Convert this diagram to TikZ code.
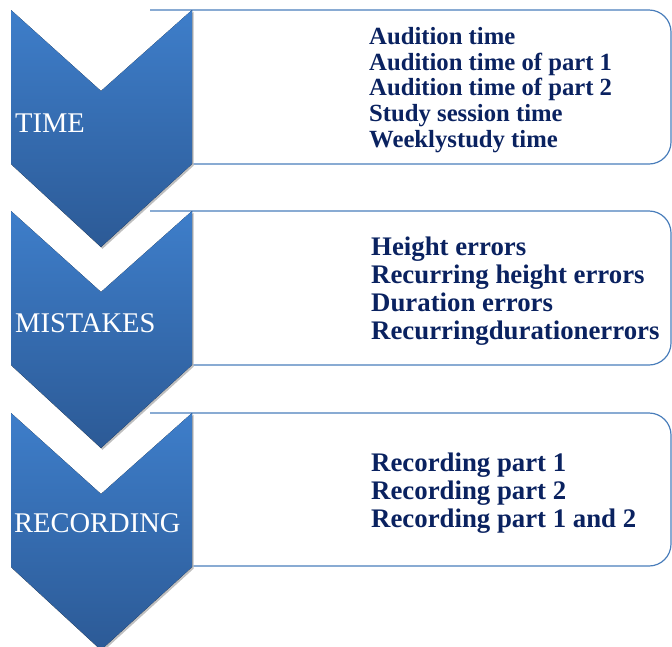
\documentclass[tikz,border=0pt]{standalone}
\usepackage{fontspec}
\setmainfont{Liberation Serif}
\definecolor{chevtop}{RGB}{62,126,202}
\definecolor{chevbot}{RGB}{44,90,150}
\definecolor{boxline}{RGB}{74,126,187}
\definecolor{navy}{RGB}{10,34,96}
\tikzset{
  chevron/.style={top color=chevtop, bottom color=chevbot, draw=none},
  chevshadow/.style={fill=black!25, draw=none},
  infobox/.style={draw=boxline, line width=1.2pt, rounded corners=22pt},
  chevlabel/.style={anchor=base west, inner sep=0pt, text=white, font=\fontsize{28.5}{30}\selectfont},
  listsmall/.style={anchor=west, inner sep=0pt, align=left, text=navy, font=\bfseries\fontsize{24.7}{25.7}\selectfont},
  listbig/.style={anchor=west, inner sep=0pt, align=left, text=navy, font=\bfseries\fontsize{26.8}{28}\selectfont},
}
\newcommand{\chevpath}[1]{(11,#1) -- (101,#1+81) -- (192,#1) -- (192,#1+154) -- (101,#1+237) -- (11,#1+154) -- cycle}
\begin{document}
\begin{tikzpicture}[x=1pt,y=-1pt]
\useasboundingbox (0,0) rectangle (672,646);
% boxes
\draw[infobox] (150,10) -- (671,10) -- (671,164) -- (150,164);
\draw[infobox] (150,211) -- (671,211) -- (671,365) -- (150,365);
\draw[infobox] (150,413) -- (671,413) -- (671,566) -- (150,566);
% chevrons
\foreach \t in {10,211,413} {
  \fill[chevshadow] [shift={(1.5,1.8)}] \chevpath{\t};
  \fill[chevron] \chevpath{\t};
}
% labels
\node[chevlabel] (time) at (15,132) {TIME};
\node[chevlabel] (mistakes) at (15,332) {MISTAKES};
\node[chevlabel] (recording) at (14,532) {RECORDING};
% lists
\node[listsmall] (timelist) at (369,90) {Audition time\\Audition time of part 1\\Audition time of part 2\\Study session time\\Weeklystudy time};
\node[listbig] (mistakeslist) at (371,291.5) {Height errors\\Recurring height errors\\Duration errors\\Recurringdurationerrors};
\node[listbig] (recordinglist) at (371,493) {Recording part 1\\Recording part 2\\Recording part 1 and 2};
\end{tikzpicture}
\end{document}
